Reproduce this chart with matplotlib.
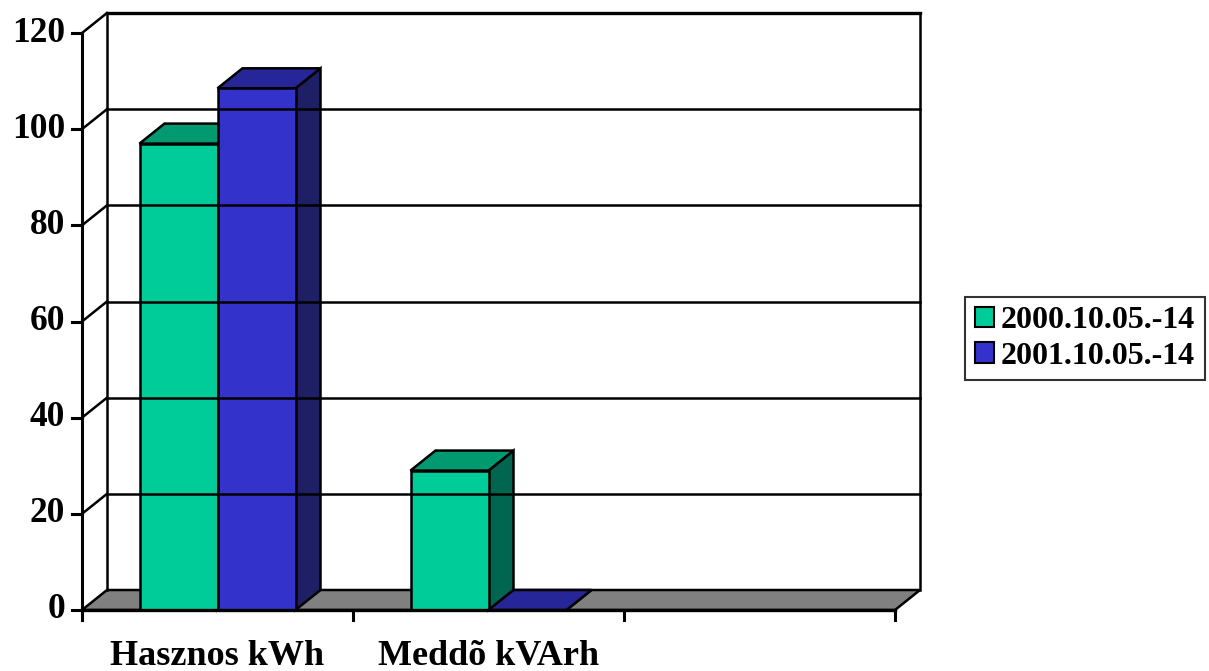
import numpy as np
import matplotlib
matplotlib.use("Agg")
import matplotlib.pyplot as plt
from matplotlib.patches import Polygon, Patch

# --- data -------------------------------------------------------------
categories = ['Hasznos kWh', 'Meddõ kVArh']
series_names = ['2000.10.05.-14', '2001.10.05.-14']
values_2000 = [97, 29]
values_2001 = [108.5, 0]
y_ticks = [0, 20, 40, 60, 80, 100, 120]

# --- colours (front, top, side) ---------------------------------------
colors = [
    ('#00CC99', '#009970', '#006650'),
    ('#3333CC', '#262699', '#1F1F66'),
]
floor_color = '#808080'

plt.rcParams['font.family'] = ['Liberation Serif', 'DejaVu Serif']
plt.rcParams['font.weight'] = 'bold'

fig = plt.figure(figsize=(12.09, 6.71), dpi=100)
ax = fig.add_axes([0, 0, 1, 1])
ax.set_axis_off()

# scale: one category slot and the value axis span
n_slots = 3
slot_px = 271.0
unit_px = 577.0 / 120.0
ax.set_xlim(-82 / slot_px, (1209 - 82) / slot_px)
ax.set_ylim((610 - 671) / unit_px, 610 / unit_px)

# depth offset for the pseudo 3d look
dx = 25 / slot_px
dy = 20 / unit_px
vmax = y_ticks[-1]
lw = 1.8

# back wall and side wall grid lines
for v in y_ticks[1:]:
    ax.plot([0, dx], [v, v + dy], color='black', lw=lw, solid_capstyle='projecting')
    ax.plot([dx, n_slots + dx], [v + dy, v + dy], color='black',
            lw=lw + (0.6 if v == vmax else 0), solid_capstyle='projecting')
ax.plot([dx, dx], [dy, vmax + dy], color='black', lw=lw)
ax.plot([n_slots + dx, n_slots + dx], [dy, vmax + dy], color='black', lw=lw)

# floor
floor = Polygon([(0, 0), (n_slots, 0), (n_slots + dx, dy), (dx, dy)],
                closed=True, facecolor=floor_color, edgecolor='black', lw=lw)
ax.add_patch(floor)

# bars
bar_w = 78 / slot_px
for i, cat in enumerate(categories):
    center = i + 0.5
    for s, vals in enumerate([values_2000, values_2001]):
        v = vals[i]
        front_c, top_c, side_c = colors[s]
        x0 = center - bar_w + s * bar_w
        x1 = x0 + bar_w
        side = Polygon([(x1, 0), (x1 + dx, dy), (x1 + dx, v + dy), (x1, v)],
                       closed=True, facecolor=side_c, edgecolor='black', lw=lw,
                       joinstyle='miter')
        top = Polygon([(x0, v), (x1, v), (x1 + dx, v + dy), (x0 + dx, v + dy)],
                      closed=True, facecolor=top_c, edgecolor='black', lw=lw,
                      joinstyle='miter')
        ax.add_patch(side)
        ax.add_patch(top)
        if v > 0:
            front = Polygon([(x0, 0), (x1, 0), (x1, v), (x0, v)], closed=True,
                            facecolor=front_c, edgecolor='black', lw=lw,
                            joinstyle='miter')
            ax.add_patch(front)

# value axis
tick_len = 10 / slot_px
ax.plot([0, 0], [0, vmax], color='black', lw=lw + 0.4)
for v in y_ticks:
    ax.plot([-tick_len, 0], [v, v], color='black', lw=lw + 0.4)
    ax.text(-17 / slot_px, v, str(v), ha='right', va='center',
            fontsize=25.5, fontweight='bold')

# category axis
ax.plot([0, n_slots], [0, 0], color='black', lw=lw + 0.6, solid_capstyle='projecting')
for k in range(n_slots + 1):
    ax.plot([k, k], [0, -10 / unit_px], color='black', lw=lw + 0.4)
for i, cat in enumerate(categories):
    ax.text(i + 0.5, -55 / unit_px, cat, ha='center', va='baseline',
            fontsize=26, fontweight='bold')

# legend
handles = [Patch(facecolor=c[0], edgecolor='black', lw=1.5) for c in colors]
leg = fig.legend(handles, series_names, loc='center left',
                 bbox_to_anchor=(965 / 1209, 1 - 338.5 / 671),
                 prop={'weight': 'bold', 'size': 23},
                 frameon=True, fancybox=False, shadow=False,
                 handlelength=0.62, handleheight=0.62, handletextpad=0.2,
                 borderpad=0.3, labelspacing=0.2, borderaxespad=0)
leg.get_frame().set_edgecolor('black')
leg.get_frame().set_linewidth(1.5)

fig.savefig('out.png', dpi=100, facecolor='white')
